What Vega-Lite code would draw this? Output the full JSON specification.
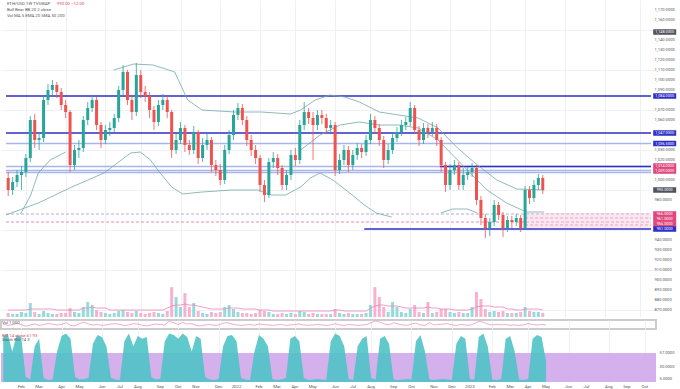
{
"$schema":"https://vega.github.io/schema/vega-lite/v6.json",
"padding":0,
"background":"white",
"spacing":1,
"config":{"font":"Roboto","view":{"stroke":null},"axis":{"gridColor":"#eef0f5","gridWidth":1,"domain":false,"ticks":false,"labels":false,"title":null}},
"resolve":{"scale":{"x":"independent","y":"independent"}},
"datasets":{
"candles":[
{"i":0,"o":1002,"h":1008,"l":984,"c":990,"v":4,"m":7,"q":55,"r":90},
{"i":1,"o":990,"h":1003,"l":985,"c":998,"v":3,"m":7,"q":40,"r":95},
{"i":2,"o":998,"h":1010,"l":993,"c":1005,"v":3,"m":7,"q":45,"r":60},
{"i":3,"o":1005,"h":1014,"l":990,"c":1008,"v":5,"m":7,"q":60,"r":92},
{"i":4,"o":1008,"h":1026,"l":1003,"c":1022,"v":4,"m":7,"q":50,"r":88},
{"i":5,"o":1022,"h":1064,"l":1018,"c":1060,"v":14,"m":8,"q":30,"r":10},
{"i":6,"o":1060,"h":1066,"l":1032,"c":1040,"v":5,"m":8,"q":45,"r":5},
{"i":7,"o":1040,"h":1048,"l":1030,"c":1042,"v":3,"m":8,"q":55,"r":70},
{"i":8,"o":1042,"h":1084,"l":1038,"c":1080,"v":6,"m":8,"q":40,"r":85},
{"i":9,"o":1080,"h":1096,"l":1075,"c":1090,"v":4,"m":8,"q":50,"r":8},
{"i":10,"o":1090,"h":1100,"l":1085,"c":1095,"v":3,"m":8,"q":60,"r":4},
{"i":11,"o":1095,"h":1098,"l":1082,"c":1088,"v":3,"m":7,"q":55,"r":5},
{"i":12,"o":1088,"h":1092,"l":1070,"c":1075,"v":4,"m":7,"q":45,"r":60},
{"i":13,"o":1075,"h":1080,"l":1062,"c":1068,"v":4,"m":7,"q":50,"r":90},
{"i":14,"o":1068,"h":1070,"l":1008,"c":1015,"v":9,"m":7,"q":70,"r":95},
{"i":15,"o":1015,"h":1035,"l":1010,"c":1030,"v":5,"m":7,"q":40,"r":85},
{"i":16,"o":1030,"h":1040,"l":1022,"c":1032,"v":4,"m":7,"q":35,"r":10},
{"i":17,"o":1032,"h":1064,"l":1028,"c":1060,"v":10,"m":9,"q":60,"r":5},
{"i":18,"o":1060,"h":1078,"l":1055,"c":1072,"v":15,"m":9,"q":75,"r":6},
{"i":19,"o":1072,"h":1085,"l":1068,"c":1080,"v":12,"m":10,"q":55,"r":8},
{"i":20,"o":1080,"h":1083,"l":1050,"c":1055,"v":7,"m":9,"q":45,"r":75},
{"i":21,"o":1055,"h":1058,"l":1032,"c":1040,"v":5,"m":9,"q":50,"r":92},
{"i":22,"o":1040,"h":1055,"l":1036,"c":1050,"v":4,"m":9,"q":40,"r":88},
{"i":23,"o":1050,"h":1058,"l":1044,"c":1052,"v":3,"m":7,"q":45,"r":70},
{"i":24,"o":1052,"h":1066,"l":1048,"c":1062,"v":4,"m":7,"q":55,"r":8},
{"i":25,"o":1062,"h":1094,"l":1058,"c":1090,"v":6,"m":7,"q":60,"r":5},
{"i":26,"o":1090,"h":1115,"l":1085,"c":1108,"v":7,"m":7,"q":50,"r":4},
{"i":27,"o":1108,"h":1110,"l":1075,"c":1080,"v":5,"m":7,"q":40,"r":80},
{"i":28,"o":1080,"h":1085,"l":1060,"c":1068,"v":4,"m":7,"q":45,"r":95},
{"i":29,"o":1068,"h":1117,"l":1064,"c":1105,"v":6,"m":7,"q":60,"r":70},
{"i":30,"o":1105,"h":1110,"l":1082,"c":1088,"v":4,"m":7,"q":55,"r":90},
{"i":31,"o":1088,"h":1094,"l":1078,"c":1084,"v":3,"m":7,"q":40,"r":85},
{"i":32,"o":1084,"h":1088,"l":1062,"c":1070,"v":4,"m":7,"q":35,"r":88},
{"i":33,"o":1070,"h":1074,"l":1050,"c":1058,"v":5,"m":7,"q":45,"r":10},
{"i":34,"o":1058,"h":1080,"l":1054,"c":1075,"v":4,"m":7,"q":55,"r":5},
{"i":35,"o":1075,"h":1086,"l":1070,"c":1080,"v":3,"m":7,"q":50,"r":6},
{"i":36,"o":1080,"h":1084,"l":1062,"c":1068,"v":6,"m":9,"q":45,"r":80},
{"i":37,"o":1068,"h":1070,"l":1022,"c":1030,"v":30,"m":11,"q":85,"r":95},
{"i":38,"o":1030,"h":1046,"l":1026,"c":1040,"v":20,"m":12,"q":70,"r":92},
{"i":39,"o":1040,"h":1058,"l":1036,"c":1052,"v":10,"m":12,"q":50,"r":85},
{"i":40,"o":1052,"h":1055,"l":1028,"c":1035,"v":24,"m":13,"q":75,"r":95},
{"i":41,"o":1035,"h":1040,"l":1025,"c":1030,"v":10,"m":12,"q":55,"r":88},
{"i":42,"o":1030,"h":1054,"l":1026,"c":1048,"v":14,"m":12,"q":60,"r":60},
{"i":43,"o":1048,"h":1050,"l":1016,"c":1022,"v":6,"m":11,"q":40,"r":90},
{"i":44,"o":1022,"h":1042,"l":1018,"c":1035,"v":4,"m":10,"q":35,"r":85},
{"i":45,"o":1035,"h":1046,"l":1030,"c":1040,"v":3,"m":9,"q":45,"r":10},
{"i":46,"o":1040,"h":1043,"l":1008,"c":1015,"v":5,"m":8,"q":50,"r":5},
{"i":47,"o":1015,"h":1020,"l":1004,"c":1010,"v":4,"m":8,"q":40,"r":4},
{"i":48,"o":1010,"h":1016,"l":995,"c":1000,"v":5,"m":8,"q":45,"r":6},
{"i":49,"o":1000,"h":1035,"l":996,"c":1030,"v":10,"m":8,"q":65,"r":70},
{"i":50,"o":1030,"h":1050,"l":1026,"c":1045,"v":12,"m":9,"q":70,"r":90},
{"i":51,"o":1045,"h":1070,"l":1040,"c":1065,"v":8,"m":9,"q":55,"r":92},
{"i":52,"o":1065,"h":1077,"l":1060,"c":1072,"v":5,"m":9,"q":45,"r":80},
{"i":53,"o":1072,"h":1076,"l":1055,"c":1060,"v":4,"m":8,"q":40,"r":8},
{"i":54,"o":1060,"h":1064,"l":1034,"c":1040,"v":4,"m":8,"q":45,"r":5},
{"i":55,"o":1040,"h":1045,"l":1024,"c":1030,"v":3,"m":8,"q":50,"r":4},
{"i":56,"o":1030,"h":1035,"l":1016,"c":1022,"v":4,"m":8,"q":40,"r":60},
{"i":57,"o":1022,"h":1025,"l":988,"c":995,"v":7,"m":7,"q":55,"r":92},
{"i":58,"o":995,"h":1000,"l":978,"c":985,"v":6,"m":7,"q":50,"r":85},
{"i":59,"o":985,"h":1022,"l":982,"c":1018,"v":5,"m":7,"q":45,"r":70},
{"i":60,"o":1018,"h":1028,"l":1012,"c":1022,"v":3,"m":6,"q":40,"r":6},
{"i":61,"o":1022,"h":1026,"l":1005,"c":1012,"v":3,"m":6,"q":45,"r":4},
{"i":62,"o":1012,"h":1015,"l":990,"c":995,"v":4,"m":6,"q":50,"r":5},
{"i":63,"o":995,"h":1010,"l":990,"c":1005,"v":3,"m":6,"q":40,"r":8},
{"i":64,"o":1005,"h":1030,"l":1000,"c":1025,"v":4,"m":6,"q":45,"r":85},
{"i":65,"o":1025,"h":1032,"l":1014,"c":1020,"v":3,"m":6,"q":50,"r":90},
{"i":66,"o":1020,"h":1060,"l":1016,"c":1055,"v":6,"m":6,"q":55,"r":80},
{"i":67,"o":1055,"h":1078,"l":1050,"c":1068,"v":5,"m":6,"q":45,"r":8},
{"i":68,"o":1068,"h":1072,"l":1056,"c":1062,"v":3,"m":6,"q":40,"r":4},
{"i":69,"o":1062,"h":1068,"l":1020,"c":1055,"v":4,"m":6,"q":45,"r":5},
{"i":70,"o":1055,"h":1070,"l":1050,"c":1065,"v":3,"m":6,"q":50,"r":6},
{"i":71,"o":1065,"h":1070,"l":1056,"c":1062,"v":3,"m":6,"q":45,"r":5},
{"i":72,"o":1062,"h":1066,"l":1046,"c":1052,"v":3,"m":6,"q":40,"r":4},
{"i":73,"o":1052,"h":1060,"l":1048,"c":1055,"v":3,"m":6,"q":45,"r":80},
{"i":74,"o":1055,"h":1058,"l":1004,"c":1010,"v":8,"m":7,"q":60,"r":95},
{"i":75,"o":1010,"h":1026,"l":1006,"c":1020,"v":4,"m":7,"q":45,"r":90},
{"i":76,"o":1020,"h":1035,"l":1015,"c":1030,"v":3,"m":6,"q":40,"r":70},
{"i":77,"o":1030,"h":1034,"l":1008,"c":1015,"v":4,"m":6,"q":50,"r":6},
{"i":78,"o":1015,"h":1030,"l":1010,"c":1025,"v":3,"m":6,"q":45,"r":4},
{"i":79,"o":1025,"h":1037,"l":1020,"c":1032,"v":3,"m":6,"q":40,"r":70},
{"i":80,"o":1032,"h":1036,"l":1022,"c":1028,"v":3,"m":6,"q":45,"r":85},
{"i":81,"o":1028,"h":1045,"l":1024,"c":1040,"v":4,"m":6,"q":50,"r":90},
{"i":82,"o":1040,"h":1066,"l":1036,"c":1060,"v":12,"m":9,"q":70,"r":8},
{"i":83,"o":1060,"h":1064,"l":1046,"c":1052,"v":30,"m":11,"q":90,"r":5},
{"i":84,"o":1052,"h":1056,"l":1034,"c":1040,"v":20,"m":12,"q":75,"r":85},
{"i":85,"o":1040,"h":1044,"l":1012,"c":1020,"v":10,"m":12,"q":55,"r":90},
{"i":86,"o":1020,"h":1036,"l":1016,"c":1030,"v":5,"m":11,"q":45,"r":75},
{"i":87,"o":1030,"h":1047,"l":1026,"c":1042,"v":15,"m":11,"q":70,"r":5},
{"i":88,"o":1042,"h":1053,"l":1038,"c":1048,"v":10,"m":11,"q":55,"r":4},
{"i":89,"o":1048,"h":1060,"l":1044,"c":1055,"v":5,"m":10,"q":45,"r":5},
{"i":90,"o":1055,"h":1063,"l":1050,"c":1058,"v":4,"m":9,"q":40,"r":6},
{"i":91,"o":1058,"h":1078,"l":1054,"c":1072,"v":8,"m":9,"q":55,"r":5},
{"i":92,"o":1072,"h":1075,"l":1046,"c":1050,"v":12,"m":9,"q":65,"r":80},
{"i":93,"o":1050,"h":1054,"l":1034,"c":1040,"v":5,"m":9,"q":45,"r":92},
{"i":94,"o":1040,"h":1057,"l":1036,"c":1052,"v":4,"m":9,"q":40,"r":60},
{"i":95,"o":1052,"h":1056,"l":1042,"c":1048,"v":15,"m":10,"q":70,"r":5},
{"i":96,"o":1048,"h":1058,"l":1044,"c":1052,"v":4,"m":9,"q":45,"r":4},
{"i":97,"o":1052,"h":1056,"l":1034,"c":1040,"v":5,"m":9,"q":50,"r":5},
{"i":98,"o":1040,"h":1043,"l":1008,"c":1015,"v":8,"m":8,"q":55,"r":6},
{"i":99,"o":1015,"h":1018,"l":988,"c":995,"v":8,"m":8,"q":60,"r":5},
{"i":100,"o":995,"h":1016,"l":990,"c":1010,"v":5,"m":8,"q":45,"r":4},
{"i":101,"o":1010,"h":1020,"l":1005,"c":1015,"v":4,"m":7,"q":40,"r":75},
{"i":102,"o":1015,"h":1018,"l":990,"c":995,"v":5,"m":7,"q":50,"r":90},
{"i":103,"o":995,"h":1012,"l":990,"c":1005,"v":4,"m":7,"q":45,"r":85},
{"i":104,"o":1005,"h":1013,"l":1000,"c":1008,"v":4,"m":7,"q":40,"r":6},
{"i":105,"o":1008,"h":1017,"l":1003,"c":1012,"v":10,"m":8,"q":60,"r":5},
{"i":106,"o":1012,"h":1015,"l":975,"c":980,"v":25,"m":10,"q":85,"r":88},
{"i":107,"o":980,"h":984,"l":955,"c":962,"v":18,"m":11,"q":75,"r":95},
{"i":108,"o":962,"h":966,"l":942,"c":952,"v":8,"m":11,"q":55,"r":70},
{"i":109,"o":952,"h":962,"l":944,"c":958,"v":5,"m":11,"q":45,"r":5},
{"i":110,"o":958,"h":980,"l":954,"c":975,"v":6,"m":10,"q":50,"r":4},
{"i":111,"o":975,"h":978,"l":960,"c":965,"v":5,"m":10,"q":45,"r":6},
{"i":112,"o":965,"h":968,"l":943,"c":952,"v":6,"m":10,"q":50,"r":85},
{"i":113,"o":952,"h":964,"l":948,"c":960,"v":4,"m":8,"q":40,"r":90},
{"i":114,"o":960,"h":964,"l":952,"c":958,"v":4,"m":8,"q":45,"r":60},
{"i":115,"o":958,"h":966,"l":954,"c":962,"v":4,"m":7,"q":40,"r":5},
{"i":116,"o":962,"h":965,"l":948,"c":952,"v":5,"m":7,"q":45,"r":4},
{"i":117,"o":952,"h":994,"l":950,"c":990,"v":10,"m":8,"q":60,"r":6},
{"i":118,"o":990,"h":994,"l":976,"c":982,"v":6,"m":8,"q":50,"r":85},
{"i":119,"o":982,"h":1000,"l":978,"c":995,"v":5,"m":8,"q":45,"r":92},
{"i":120,"o":995,"h":1006,"l":990,"c":1002,"v":5,"m":8,"q":50,"r":88},
{"i":121,"o":1002,"h":1005,"l":986,"c":990,"v":4,"m":7,"q":45,"r":40}
],
"ma":[
{"s":"a","i":-0.5,"p":965},{"s":"a","i":6.8,"p":977},{"s":"a","i":14.4,"p":993},{"s":"a","i":21.7,"p":1007},{"s":"a","i":27.7,"p":1027},{"s":"a","i":29.9,"p":1028},{"s":"a","i":32.2,"p":1020},{"s":"a","i":34.4,"p":1007},{"s":"a","i":37,"p":993},{"s":"a","i":39.5,"p":986},{"s":"a","i":43.9,"p":988},{"s":"a","i":50.6,"p":990},{"s":"a","i":56.6,"p":990},{"s":"a","i":59.5,"p":985},{"s":"a","i":62.8,"p":985},{"s":"a","i":66.2,"p":993},{"s":"a","i":68.4,"p":1002},{"s":"a","i":70.6,"p":1007},{"s":"a","i":73.5,"p":1000},{"s":"a","i":77.3,"p":987},{"s":"a","i":80.6,"p":975},{"s":"a","i":83.3,"p":967},{"s":"a","i":86.8,"p":963},
{"s":"b","i":97.9,"p":967},{"s":"b","i":100.6,"p":971},{"s":"b","i":103.9,"p":971},{"s":"b","i":106.2,"p":967},
{"s":"c","i":23.9,"p":1110},{"s":"c","i":28.4,"p":1116},{"s":"c","i":32.8,"p":1115},{"s":"c","i":37.7,"p":1108},{"s":"c","i":40.6,"p":1080},{"s":"c","i":43.9,"p":1070},{"s":"c","i":51.3,"p":1068},{"s":"c","i":57.3,"p":1068},{"s":"c","i":63.9,"p":1066},{"s":"c","i":66.2,"p":1070},{"s":"c","i":69.5,"p":1080},{"s":"c","i":72.8,"p":1085},{"s":"c","i":76.2,"p":1083},{"s":"c","i":79.5,"p":1078},{"s":"c","i":84,"p":1068},{"s":"c","i":88.4,"p":1065},{"s":"c","i":92.8,"p":1062},{"s":"c","i":97.3,"p":1052},{"s":"c","i":101.7,"p":1032},{"s":"c","i":106.2,"p":1015},{"s":"c","i":110.6,"p":1000},{"s":"c","i":115.1,"p":991},{"s":"c","i":121.3,"p":990},
{"s":"d","i":66.2,"p":1030},{"s":"d","i":70.6,"p":1045},{"s":"d","i":75.1,"p":1055},{"s":"d","i":79.5,"p":1058},{"s":"d","i":84,"p":1055},{"s":"d","i":88.4,"p":1055},{"s":"d","i":92.8,"p":1052},{"s":"d","i":97.3,"p":1040},{"s":"d","i":100.6,"p":1025},{"s":"d","i":103.9,"p":1010},{"s":"d","i":108.4,"p":990},{"s":"d","i":112.8,"p":977},{"s":"d","i":117.3,"p":968},{"s":"d","i":121.3,"p":968},
{"s":"e","i":2.8,"p":966},{"s":"e","i":5.1,"p":985},{"s":"e","i":6.8,"p":1007},{"s":"e","i":9.5,"p":1020},{"s":"e","i":13,"p":1028}
],
"hlines":[
{"p":1036.5,"x0":-0.5,"x1":145.5,"k":"light"},
{"p":1013.5,"x0":-0.5,"x1":145.5,"k":"light"},
{"p":1009.5,"x0":-0.5,"x1":145.5,"k":"light"},
{"p":1007.5,"x0":-0.5,"x1":145.5,"k":"light"},
{"p":966,"x0":-0.5,"x1":145.5,"k":"purpledash"},
{"p":958,"x0":-0.5,"x1":145.5,"k":"pinkdash"},
{"p":962,"x0":117,"x1":145.5,"k":"pinkdash"},
{"p":955,"x0":117,"x1":145.5,"k":"pinkdash"},
{"p":1084,"x0":-0.5,"x1":145.5,"k":"major"},
{"p":1047,"x0":-0.5,"x1":145.5,"k":"major"},
{"p":1013.5,"x0":97.7,"x1":145.5,"k":"major"},
{"p":951,"x0":80.6,"x1":145.5,"k":"major"}
],
"zones":[{"a":117,"b":145.5,"lo":952,"hi":967}],
"tags":[
{"p":1148,"k":"price"},{"p":1084,"k":"major"},{"p":1047,"k":"major"},{"p":1036.5,"k":"major"},{"p":1014,"k":"zone"},{"p":1009,"k":"zone"},{"p":990,"k":"price"},{"p":966,"k":"zone"},{"p":961,"k":"zone"},{"p":956,"k":"zone"},{"p":951,"k":"major"}
],
"yticks":[{"p":870},{"p":880},{"p":890},{"p":900},{"p":910},{"p":920},{"p":930},{"p":940},{"p":980},{"p":1000},{"p":1020},{"p":1030},{"p":1060},{"p":1070},{"p":1090},{"p":1100},{"p":1110},{"p":1120},{"p":1130},{"p":1140},{"p":1160},{"p":1170}],
"xticks":[{"i":4,"t":"Feb"},{"i":8,"t":"Mar"},{"i":13,"t":"Apr"},{"i":17,"t":"May"},{"i":22,"t":"Jun"},{"i":26,"t":"Jul"},{"i":30,"t":"Aug"},{"i":35,"t":"Sep"},{"i":39,"t":"Oct"},{"i":43,"t":"Nov"},{"i":48,"t":"Dec"},{"i":52,"t":"2022"},{"i":57,"t":"Feb"},{"i":61,"t":"Mar"},{"i":65,"t":"Apr"},{"i":69,"t":"May"},{"i":74,"t":"Jun"},{"i":78,"t":"Jul"},{"i":82,"t":"Aug"},{"i":87,"t":"Sep"},{"i":91,"t":"Oct"},{"i":96,"t":"Nov"},{"i":100,"t":"Dec"},{"i":104,"t":"2023"},{"i":109,"t":"Feb"},{"i":113,"t":"Mar"},{"i":117,"t":"Apr"},{"i":121,"t":"May"},{"i":126,"t":"Jun"},{"i":130,"t":"Jul"},{"i":135,"t":"Aug"},{"i":139,"t":"Sep"},{"i":143,"t":"Oct"}],
"oticks":[{"v":57},{"v":30},{"v":5}]
},
"vconcat":[
{
"width":655,"height":317,
"resolve":{"scale":{"y":"independent"}},
"layer":[
{"data":{"name":"candles"},"layer":[
{"mark":{"type":"bar","width":3,"opacity":0.85},
"encoding":{
"x":{"field":"i","type":"quantitative","title":null,"scale":{"domain":[-0.5,145.5],"nice":false,"zero":false},"axis":{"labels":false,"grid":true,"title":null,"values":[4,8,13,17,22,26,30,35,39,43,48,52,57,61,65,69,74,78,82,87,91,96,100,104,109,113,117,121,126,130,135,139,143]}},
"y":{"field":"v","type":"quantitative","scale":{"domain":[0,318]},"axis":null},
"color":{"condition":{"test":"datum.c>=datum.o","value":"#86d3d6"},"value":"#f4a5c6"}}},
{"mark":{"type":"line","color":"#ee84b4","strokeWidth":0.8},
"encoding":{"x":{"field":"i","type":"quantitative","title":null},"y":{"field":"m","type":"quantitative","scale":{"domain":[0,318]},"axis":null}}}
]},
{"layer":[
{"data":{"name":"hlines"},"mark":{"type":"rule"},
"encoding":{
"x":{"field":"x0","type":"quantitative","title":null},"x2":{"field":"x1"},
"y":{"field":"p","type":"quantitative","title":null,"scale":{"domain":[863,1180],"nice":false,"zero":false},"axis":{"orient":"right","grid":true,"labels":false,"title":null,"values":[870,880,890,900,910,920,930,940,950,960,970,980,990,1000,1010,1020,1030,1040,1050,1060,1070,1080,1090,1100,1110,1120,1130,1140,1150,1160,1170]}},
"color":{"field":"k","type":"nominal","legend":null,"scale":{"domain":["major","light","pinkdash","purpledash","price","zone"],"range":["#2f2fc6","#a8b7ea","#e68cbd","#a993dc","#50535e","#e0457b"]}},
"strokeWidth":{"field":"k","type":"nominal","legend":null,"scale":{"domain":["major","light","pinkdash","purpledash"],"range":[1.6,0.8,0.9,0.9]}},
"strokeDash":{"field":"k","type":"nominal","legend":null,"scale":{"domain":["major","light","pinkdash","purpledash"],"range":[[1,0],[1,0],[3,2],[3,2]]}}}},
{"data":{"name":"zones"},"mark":{"type":"rect","color":"#f6c3d8","opacity":0.4},
"encoding":{"x":{"field":"a","type":"quantitative","title":null},"x2":{"field":"b"},"y":{"field":"lo","type":"quantitative","title":null},"y2":{"field":"hi"}}},
{"data":{"name":"ma"},"mark":{"type":"line","strokeWidth":0.8,"color":"#73a8a7"},
"encoding":{"x":{"field":"i","type":"quantitative","title":null},"y":{"field":"p","type":"quantitative","title":null},"detail":{"field":"s"}}},
{"data":{"name":"candles"},"mark":{"type":"rule","strokeWidth":0.8},
"encoding":{"x":{"field":"i","type":"quantitative","title":null},"y":{"field":"l","type":"quantitative","title":null},"y2":{"field":"h"},
"color":{"condition":{"test":"datum.c>=datum.o","value":"#26a69a"},"value":"#ef5350"}}},
{"data":{"name":"candles"},"mark":{"type":"bar","width":3},
"encoding":{"x":{"field":"i","type":"quantitative","title":null},"y":{"field":"o","type":"quantitative","title":null},"y2":{"field":"c"},
"color":{"condition":{"test":"datum.c>=datum.o","value":"#26a69a"},"value":"#ef5350"}}},
{"data":{"name":"yticks"},"mark":{"type":"text","fontSize":4.1,"color":"#555","align":"left","baseline":"middle"},
"encoding":{"x":{"datum":146.3},"y":{"field":"p","type":"quantitative","title":null},"text":{"field":"p","format":",.4f"}}},
{"data":{"name":"tags"},"mark":{"type":"point","shape":"M-1,-0.24H1V0.24H-1Z","filled":true,"size":529,"opacity":1},
"encoding":{"x":{"datum":148.6},"y":{"field":"p","type":"quantitative","title":null},
"color":{"field":"k","type":"nominal","legend":null,"scale":{"domain":["major","light","pinkdash","purpledash","price","zone"],"range":["#2f2fc6","#a8b7ea","#e68cbd","#a993dc","#50535e","#e0457b"]}}}},
{"data":{"name":"tags"},"mark":{"type":"text","fontSize":3.8,"color":"white","align":"center","baseline":"middle"},
"encoding":{"x":{"datum":148.6},"y":{"field":"p","type":"quantitative","title":null},"text":{"field":"p","format":",.4f"}}},
{"data":{"values":[{}]},"mark":{"type":"text","fontSize":4.3,"color":"#555","align":"left","baseline":"middle"},
"encoding":{"x":{"datum":-0.3},"y":{"datum":1176},"text":{"value":"ETH/USD 1W TVSWAP"}}},
{"data":{"values":[{}]},"mark":{"type":"text","fontSize":4.3,"color":"#e0455a","align":"left","baseline":"middle"},
"encoding":{"x":{"datum":11},"y":{"datum":1176},"text":{"value":"990.00 −12.00"}}},
{"data":{"values":[{}]},"mark":{"type":"text","fontSize":4.3,"color":"#555","align":"left","baseline":"middle"},
"encoding":{"x":{"datum":-0.3},"y":{"datum":1170},"text":{"value":"Bull Bear BB 20 2 close"}}},
{"data":{"values":[{}]},"mark":{"type":"text","fontSize":4.3,"color":"#555","align":"left","baseline":"middle"},
"encoding":{"x":{"datum":-0.3},"y":{"datum":1164},"text":{"value":"Vol MA 5 EMA 20 SMA 50 200"}}}
]}
]
},
{
"width":655,"height":9,
"view":{"stroke":"#cccccc","strokeWidth":2},
"layer":[
{"data":{"name":"candles"},"mark":{"type":"line","color":"#ee86b6","strokeWidth":0.7},
"encoding":{"x":{"field":"i","type":"quantitative","title":null,"scale":{"domain":[-0.5,145.5],"nice":false,"zero":false},"axis":{"labels":false,"grid":true,"title":null,"values":[4,8,13,17,22,26,30,35,39,43,48,52,57,61,65,69,74,78,82,87,91,96,100,104,109,113,117,121,126,130,135,139,143]}},
"y":{"field":"q","type":"quantitative","scale":{"domain":[0,100]},"axis":null}}},
{"data":{"values":[{}]},"mark":{"type":"text","fontSize":4.3,"color":"#555","align":"left","baseline":"middle"},
"encoding":{"x":{"datum":-0.3},"y":{"datum":70},"text":{"value":"Vol 1,000"}}}
]
},
{
"width":655,"height":51,
"layer":[
{"data":{"values":[{}]},"mark":{"type":"rect","color":"#cfa8ea","opacity":0.9},
"encoding":{"x":{"datum":-0.5,"scale":{"domain":[-0.5,145.5],"nice":false,"zero":false},"axis":{"grid":true,"labels":false,"title":null,"values":[4,8,13,17,22,26,30,35,39,43,48,52,57,61,65,69,74,78,82,87,91,96,100,104,109,113,117,121,126,130,135,139,143]}},
"x2":{"datum":145.5},
"y":{"datum":0,"scale":{"domain":[0,100],"nice":false},"axis":null},
"y2":{"datum":57}}},
{"data":{"name":"candles"},"mark":{"type":"area","color":"#4fc3c7","opacity":0.9},
"encoding":{"x":{"field":"i","type":"quantitative","title":null},"y":{"field":"r","type":"quantitative","title":null}}},
{"data":{"name":"oticks"},"mark":{"type":"text","fontSize":4.1,"color":"#555","align":"left","baseline":"middle"},
"encoding":{"x":{"datum":146.3},"y":{"field":"v","type":"quantitative","title":null},"text":{"field":"v","format":",.4f"}}},
{"data":{"name":"xticks"},"mark":{"type":"text","fontSize":4.3,"color":"#555","align":"center","baseline":"middle"},
"encoding":{"x":{"field":"i","type":"quantitative","title":null},"y":{"datum":-10},"text":{"field":"t"}}},
{"data":{"values":[{}]},"mark":{"type":"text","fontSize":4.3,"color":"#e0455a","align":"left","baseline":"middle"},
"encoding":{"x":{"datum":-0.3},"y":{"datum":91},"text":{"value":"RSI 14 close 61.93"}}},
{"data":{"values":[{}]},"mark":{"type":"text","fontSize":4.3,"color":"#555","align":"left","baseline":"middle"},
"encoding":{"x":{"datum":-0.3},"y":{"datum":82},"text":{"value":"Stoch RSI 14 3"}}}
]
}
]
}
